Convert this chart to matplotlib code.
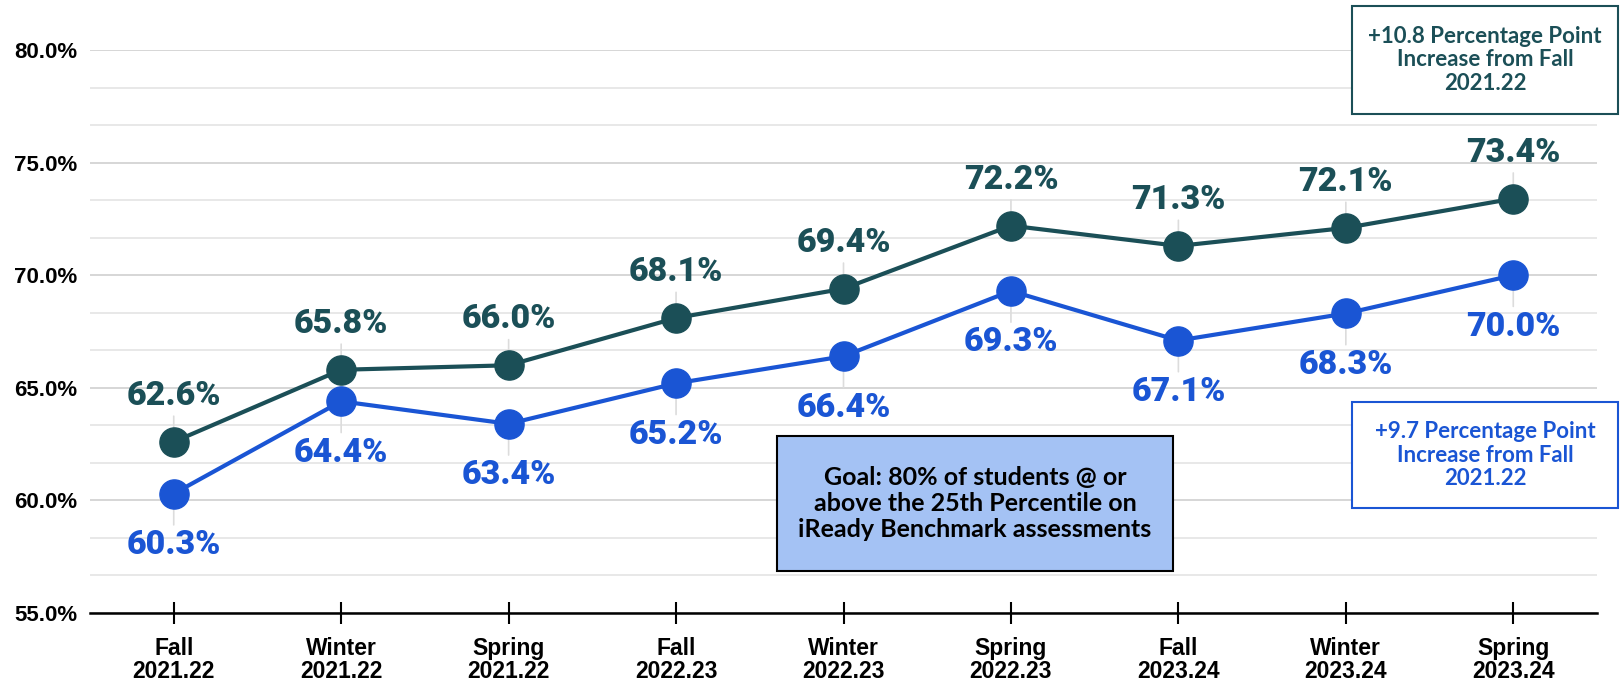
import matplotlib.pyplot as plt
import numpy as np
from matplotlib.patches import Rectangle

# data
periodos = ["Fall\n2021.22", "Winter\n2021.22", "Spring\n2021.22",
            "Fall\n2022.23", "Winter\n2022.23", "Spring\n2022.23",
            "Fall\n2023.24", "Winter\n2023.24", "Spring\n2023.24"]
serie_teal = [62.6, 65.8, 66.0, 68.1, 69.4, 72.2, 71.3, 72.1, 73.4]
serie_azul = [60.3, 64.4, 63.4, 65.2, 66.4, 69.3, 67.1, 68.3, 70.0]

cor_teal = "#1b4f57"
cor_azul = "#1a55d4"

fig = plt.figure(figsize=(16.21, 6.83), dpi=100)
ax = fig.add_axes([90 / 1621, 70 / 683, (1597 - 90) / 1621, (613 - 50) / 683])

x = np.arange(len(periodos))

# linhas de grade
for v in np.arange(55, 80.01, 5 / 3):
    maior = abs(v / 5 - round(v / 5)) < 1e-6
    ax.axhline(v, color="#cfcfcf" if maior else "#e4e4e4", lw=1.2, zorder=0)

ax.plot(x, serie_teal, color=cor_teal, lw=3, marker="o", ms=21, zorder=4, clip_on=False)
ax.plot(x, serie_azul, color=cor_azul, lw=3, marker="o", ms=21, zorder=4, clip_on=False)

# rotulos dos pontos
fonte_rot = dict(family="Roboto", weight="heavy", size=24.5)
for xi, v in zip(x, serie_teal):
    ax.annotate(f"{v:.1f}%", (xi, v), xytext=(0, 33), textcoords="offset points",
                ha="center", va="center", color=cor_teal, zorder=3,
                arrowprops=dict(arrowstyle="-", color="#dcdcdc", lw=1.2, shrinkA=1, shrinkB=0),
                **fonte_rot)
for xi, v in zip(x, serie_azul):
    ax.annotate(f"{v:.1f}%", (xi, v), xytext=(0, -37), textcoords="offset points",
                ha="center", va="center", color=cor_azul, zorder=3,
                arrowprops=dict(arrowstyle="-", color="#dcdcdc", lw=1.2, shrinkA=1, shrinkB=0),
                **fonte_rot)

ax.set_xlim(-0.5, 8.5)
ax.set_ylim(55, 80)
ax.set_xticks(x)
ax.set_xticklabels(periodos, family="Liberation Sans", weight="bold", size=16.5, linespacing=1.0)
ax.set_yticks(np.arange(55, 80.1, 5))
ax.set_yticklabels([f"{v:.1f}%" for v in np.arange(55, 80.1, 5)],
                   family="Liberation Sans", weight="bold", size=16)
ax.tick_params(axis="x", direction="inout", length=16, width=1.5, pad=9, color="black")
ax.tick_params(axis="y", length=0, pad=9)

for lado in ["top", "right", "left"]:
    ax.spines[lado].set_visible(False)
ax.spines["bottom"].set_linewidth(1.8)
ax.spines["bottom"].set_zorder(5)

# caixas de texto
def caixa(x0, y0, x1, y1, borda, fundo, texto, cor, tam, esp):
    fig.patches.append(Rectangle((x0 / 1621, 1 - y1 / 683), (x1 - x0) / 1621, (y1 - y0) / 683,
                                 transform=fig.transFigure, facecolor=fundo,
                                 edgecolor=borda, lw=1.5, zorder=6))
    fig.text((x0 + x1) / 2 / 1621, 1 - (y0 + y1) / 2 / 683, texto, ha="center", va="center",
             color=cor, family="Lato", weight="bold", size=tam, linespacing=esp, zorder=7)

caixa(1352, 6, 1618, 114, cor_teal, "white",
      "+10.8 Percentage Point\nIncrease from Fall\n2021.22", cor_teal, 16, 1.12)
caixa(1352, 402, 1618, 508, cor_azul, "white",
      "+9.7 Percentage Point\nIncrease from Fall\n2021.22", cor_azul, 16, 1.12)
caixa(777, 436, 1173, 571, "black", "#a4c2f4",
      "Goal: 80% of students @ or\nabove the 25th Percentile on\niReady Benchmark assessments",
      "black", 18, 1.17)

fig.savefig("out.png", dpi=100)
